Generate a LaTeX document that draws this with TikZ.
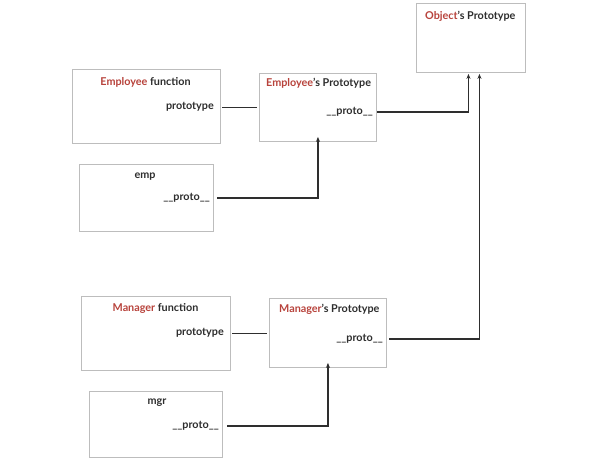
\documentclass[tikz,border=0pt]{standalone}
\usepackage{fontspec}
\setmainfont{Lato}
\usetikzlibrary{arrows.meta}
\definecolor{accent}{HTML}{B8433C}
\definecolor{ink}{HTML}{2E2E2E}
\definecolor{frame}{HTML}{BDBDBD}
\begin{document}
\begin{tikzpicture}[x=1pt,y=-1pt,
  box/.style={draw=frame, line width=0.9pt, anchor=north west, inner sep=0pt},
  lbl/.style={inner sep=0pt, font=\bfseries\fontsize{10.8}{12}\selectfont, text=ink},
  link/.style={draw=ink, line width=0.9pt},
  chain/.style={draw=ink, line width=1.4pt, -{Stealth[length=5pt,width=4pt]}, shorten >=1pt}]
\useasboundingbox (0,0) rectangle (589,467);
\fill[white] (0,0) rectangle (589,467);
% boxes
\node[box, minimum width=109pt, minimum height=69pt] (obj) at (416,3) {};
\node[box, minimum width=148pt, minimum height=74pt] (ef) at (72,69) {};
\node[box, minimum width=117pt, minimum height=68pt] (ep) at (259,73) {};
\node[box, minimum width=134pt, minimum height=67pt] (emp) at (79,164) {};
\node[box, minimum width=149pt, minimum height=74pt] (mf) at (81,296) {};
\node[box, minimum width=117pt, minimum height=69pt] (mp) at (269,298) {};
\node[box, minimum width=133pt, minimum height=66pt] (mgr) at (89,391) {};
% texts
\node[lbl, anchor=west] (objT) at (425,16) {\textcolor{accent}{Object}’s Prototype};
\node[lbl] (efT) at (145.5,82) {\textcolor{accent}{Employee} function};
\node[lbl, anchor=east] (efP) at (214,107) {prototype};
\node[lbl, anchor=west] (epT) at (266,83) {\textcolor{accent}{Employee}’s Prototype};
\node[lbl, anchor=east] (epP) at (373,112) {\_\_proto\_\_};
\node[lbl] (empT) at (145,177) {emp};
\node[lbl, anchor=east] (empP) at (210,198) {\_\_proto\_\_};
\node[lbl] (mfT) at (155.5,308) {\textcolor{accent}{Manager} function};
\node[lbl, anchor=east] (mfP) at (224,333) {prototype};
\node[lbl, anchor=west] (mpT) at (279,309) {\textcolor{accent}{Manager}’s Prototype};
\node[lbl, anchor=east] (mpP) at (383,339) {\_\_proto\_\_};
\node[lbl] (mgrT) at (157,403) {mgr};
\node[lbl, anchor=east] (mgrP) at (219,426) {\_\_proto\_\_};
% connectors
\coordinate (oa) at ([xshift=-2.5pt]obj.south);
\coordinate (ob) at ([xshift=8.5pt]obj.south);
\draw[link] ([xshift=8pt]efP.east) -- ([xshift=-2pt]ep.west |- efP.east);
\draw[link] ([xshift=8pt]mfP.east) -- ([xshift=-2pt]mp.west |- mfP.east);
\draw[chain] ([xshift=4pt]epP.east) -| (oa);
\draw[chain] ([xshift=6pt]mpP.east) -| (ob);
\draw[chain] ([xshift=7pt]empP.east) -| ([yshift=6pt]ep.south);
\draw[chain] ([xshift=8pt]mgrP.east) -| ([yshift=6pt]mp.south);
\end{tikzpicture}
\end{document}
